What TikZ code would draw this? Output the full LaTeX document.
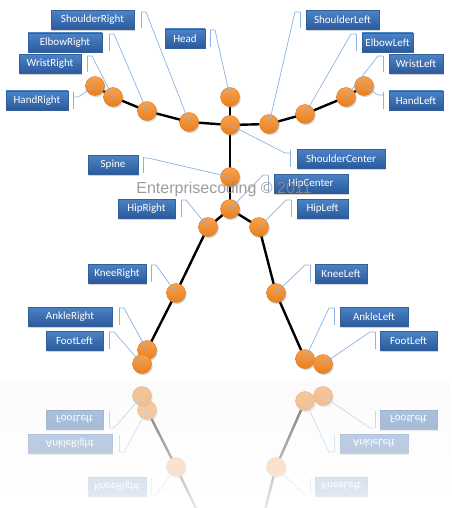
\documentclass[tikz,border=0pt]{standalone}
\usepackage{fontspec}
\setmainfont{Carlito}
\newfontfamily\wmfont{Liberation Sans}
\usetikzlibrary{shadows,fadings}
\definecolor{boxtop}{HTML}{4C83C6}
\definecolor{boxbot}{HTML}{2A5A9C}
\definecolor{boxedge}{HTML}{34609A}
\definecolor{leadc}{HTML}{8DB3E2}
\definecolor{jointtop}{HTML}{F8A04E}
\definecolor{jointbot}{HTML}{E7801F}
\definecolor{jointe}{HTML}{E07A1E}
\tikzset{
  bone/.style={line width=2.4pt, black, line cap=round},
  joint/.style={circle, minimum size=19pt, inner sep=0pt, top color=jointtop, bottom color=jointbot, draw=jointe, line width=0.4pt,
     drop shadow={shadow xshift=1.2pt, shadow yshift=-1.5pt, opacity=0.35}},
  lbl/.style={rectangle, minimum height=19pt, inner sep=0pt, top color=boxtop, bottom color=boxbot,
     draw=boxedge, line width=0.4pt, text=white, font=\fontsize{11pt}{12pt}\selectfont,
     drop shadow={shadow xshift=1.2pt, shadow yshift=-1.5pt, opacity=0.35}},
  accbar/.style={leadc, line width=0.7pt},
  lead/.style={leadc, line width=0.7pt},
}
\newcommand\calloutR[6]{% prefix, id, barx, y1, y2, ticky
  \draw[accbar] (#3,#4) -- (#3,#5);
  \coordinate (#1t#2) at (#3+5,#6);
  \draw[lead] (#3,#6) -- (#1t#2) -- (#1p#2);
}
\newcommand\calloutL[6]{%
  \draw[accbar] (#3,#4) -- (#3,#5);
  \coordinate (#1t#2) at (#3-5,#6);
  \draw[lead] (#3,#6) -- (#1t#2) -- (#1p#2);
}
\newcommand\skelcoords[1]{%
  \coordinate (#1pHR) at (95,86);
  \coordinate (#1pWR) at (113,97);
  \coordinate (#1pER) at (147,111);
  \coordinate (#1pSR) at (189,122);
  \coordinate (#1pHd) at (230,97);
  \coordinate (#1pSC) at (230,125);
  \coordinate (#1pSL) at (269,124);
  \coordinate (#1pEL) at (305,114);
  \coordinate (#1pWL) at (346,97);
  \coordinate (#1pHL) at (364,86);
  \coordinate (#1pSp) at (230,177);
  \coordinate (#1pHC) at (230,209);
  \coordinate (#1pHpR) at (208,227);
  \coordinate (#1pHpL) at (259,227);
  \coordinate (#1pKR) at (176,293);
  \coordinate (#1pKL) at (276,293);
  \coordinate (#1pAR) at (147,350);
  \coordinate (#1pFR) at (142,364);
  \coordinate (#1pAL) at (305,359);
  \coordinate (#1pFL) at (323,364);
}
\newcommand\skelupper[1]{%
  \draw[bone] (#1pHR) -- (#1pWR) -- (#1pER) -- (#1pSR) -- (#1pSC) -- (#1pSL) -- (#1pEL) -- (#1pWL) -- (#1pHL);
  \draw[bone] (#1pHd) -- (#1pSC) -- (#1pSp) -- (#1pHC);
  \draw[bone] (#1pHpR) -- (#1pHC) -- (#1pHpL);
  \node[joint] (#1jHR) at (#1pHR) {};
  \node[joint] (#1jWR) at (#1pWR) {};
  \node[joint] (#1jER) at (#1pER) {};
  \node[joint] (#1jSR) at (#1pSR) {};
  \node[joint] (#1jHd) at (#1pHd) {};
  \node[joint] (#1jSC) at (#1pSC) {};
  \node[joint] (#1jSL) at (#1pSL) {};
  \node[joint] (#1jEL) at (#1pEL) {};
  \node[joint] (#1jWL) at (#1pWL) {};
  \node[joint] (#1jHL) at (#1pHL) {};
  \node[joint] (#1jSp) at (#1pSp) {};
  \node[joint] (#1jHC) at (#1pHC) {};
  \node[lbl, minimum width=83pt] (#1lSR) at (92.5,20) {ShoulderRight};
  \node[lbl, minimum width=74pt] (#1lER) at (65,42.5) {ElbowRight};
  \node[lbl, minimum width=62pt] (#1lWR) at (50,64) {WristRight};
  \node[lbl, minimum width=62pt] (#1lHR) at (37,100.5) {HandRight};
  \node[lbl, minimum width=40pt] (#1lHd) at (185,38.5) {Head};
  \node[lbl, minimum width=73pt] (#1lSL) at (342.5,20) {ShoulderLeft};
  \node[lbl, minimum width=51pt] (#1lEL) at (387.5,42.5) {ElbowLeft};
  \node[lbl, minimum width=54pt] (#1lWL) at (416,64) {WristLeft};
  \node[lbl, minimum width=54pt] (#1lHL) at (416,100.5) {HandLeft};
  \node[lbl, minimum width=88pt] (#1lSC) at (341,158.5) {ShoulderCenter};
  \node[lbl, minimum width=50pt] (#1lSp) at (113,165) {Spine};
  \node[lbl, minimum width=74pt] (#1lHC) at (311,183.5) {HipCenter};
  \node[lbl, minimum width=57pt] (#1lHpR) at (146.5,208.5) {HipRight};
  \node[lbl, minimum width=51pt] (#1lHpL) at (322.5,208.5) {HipLeft};
}
\newcommand\skellegs[1]{%
  \draw[bone] (#1pHpR) -- (#1pKR) -- (#1pAR) -- (#1pFR);
  \draw[bone] (#1pHpL) -- (#1pKL) -- (#1pAL) -- (#1pFL);
  \node[joint] (#1jHpR) at (#1pHpR) {};
  \node[joint] (#1jHpL) at (#1pHpL) {};
  \node[joint] (#1jKR) at (#1pKR) {};
  \node[joint] (#1jKL) at (#1pKL) {};
  \node[joint] (#1jAR) at (#1pAR) {};
  \node[joint] (#1jFR) at (#1pFR) {};
  \node[joint] (#1jAL) at (#1pAL) {};
  \node[joint] (#1jFL) at (#1pFL) {};
  \node[lbl, minimum width=58pt] (#1lKR) at (117,273.5) {KneeRight};
  \node[lbl, minimum width=52pt] (#1lKL) at (341,273.5) {KneeLeft};
  \node[lbl, minimum width=84pt] (#1lAR) at (70,316.5) {AnkleRight};
  \node[lbl, minimum width=57pt] (#1lFR) at (74.5,340.5) {FootLeft};
  \node[lbl, minimum width=68pt] (#1lAL) at (374,316.5) {AnkleLeft};
  \node[lbl, minimum width=57pt] (#1lFL) at (408.5,340.5) {FootLeft};
  \calloutR{#1}{KR}{151}{265}{282}{265}
  \calloutL{#1}{KL}{310}{265}{282}{265}
  \calloutR{#1}{AR}{119}{308}{325}{308}
  \calloutR{#1}{FR}{109}{332}{349}{332}
  \calloutL{#1}{AL}{334}{308}{325}{308}
  \calloutL{#1}{FL}{375}{332}{349}{332}
}
\newcommand\skeluppercallouts[1]{%
  \calloutR{#1}{SR}{141}{12}{28}{12}
  \calloutR{#1}{ER}{109}{34}{51}{34}
  \calloutR{#1}{WR}{87}{56}{72}{56}
  \calloutR{#1}{HR}{73}{92}{109}{97}
  \calloutR{#1}{Hd}{210}{30}{47}{30}
  \calloutL{#1}{SL}{300}{12}{28}{12}
  \calloutL{#1}{EL}{356}{34}{51}{34}
  \calloutL{#1}{WL}{383}{56}{72}{56}
  \calloutL{#1}{HL}{383}{92}{109}{95}
  \calloutL{#1}{SC}{290}{150}{167}{153}
  \calloutR{#1}{Sp}{143}{157}{173}{158}
  \calloutL{#1}{HC}{268}{175}{192}{175}
  \calloutR{#1}{HpR}{181}{200}{217}{200}
  \calloutL{#1}{HpL}{291}{200}{217}{200}
}
\begin{document}
\begin{tikzpicture}[x=1pt, y=-1pt]
  \useasboundingbox (0,0) rectangle (451,508);
  \fill[white] (0,0) rectangle (451,508);
  \begin{scope}
    \clip (0,0) rectangle (451,508);
    % reflection of the lower body
    \begin{scope}[shift={(0,760)}, yscale=-1, transform shape]
      \skelcoords{r}
      \skellegs{r}
    \end{scope}
    \fill[white, opacity=0.42] (0,380) rectangle (451,508);
    \fill[white, path fading=north] (0,380) rectangle (451,530);
    % faint floor tint
    \fill[black, opacity=0.015, path fading=south] (0,381) rectangle (451,508);
  \end{scope}
  % main scene
  \skelcoords{}
  \skelupper{}
  \skellegs{}
  \skeluppercallouts{}
  % watermark
  \node[font=\wmfont\fontsize{16pt}{18pt}\selectfont, text=black!45, opacity=0.85, inner sep=0pt] (wm) at (224,189) {Enterprisecoding \textcopyright{} 2011};
\end{tikzpicture}
\end{document}
